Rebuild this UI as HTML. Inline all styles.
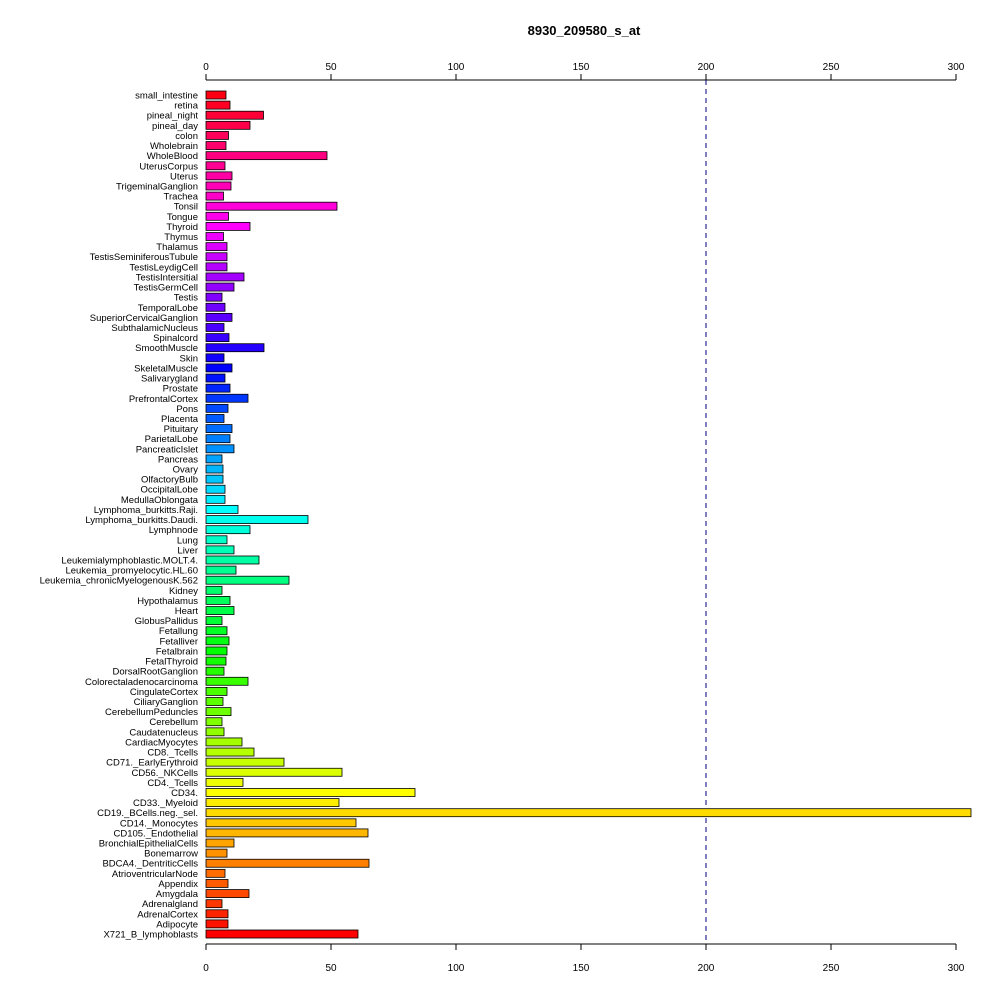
<!DOCTYPE html>
<html><head><meta charset="utf-8"><style>
body{margin:0;background:#fff;}
svg text{font-family:"Liberation Sans",Arial,sans-serif;}
</style></head><body>
<svg id="chart" width="1000" height="1000" xmlns="http://www.w3.org/2000/svg">
<rect width="1000" height="1000" fill="#fff"/>
<text x="584" y="35" text-anchor="middle" font-size="13" font-weight="bold">8930_209580_s_at</text>
<g id="axes"></g><g id="bars"></g>
</svg>
<script>
const categories=["small_intestine","retina","pineal_night","pineal_day","colon","Wholebrain","WholeBlood","UterusCorpus","Uterus","TrigeminalGanglion","Trachea","Tonsil","Tongue","Thyroid","Thymus","Thalamus","TestisSeminiferousTubule","TestisLeydigCell","TestisIntersitial","TestisGermCell","Testis","TemporalLobe","SuperiorCervicalGanglion","SubthalamicNucleus","Spinalcord","SmoothMuscle","Skin","SkeletalMuscle","Salivarygland","Prostate","PrefrontalCortex","Pons","Placenta","Pituitary","ParietalLobe","PancreaticIslet","Pancreas","Ovary","OlfactoryBulb","OccipitalLobe","MedullaOblongata","Lymphoma_burkitts.Raji.","Lymphoma_burkitts.Daudi.","Lymphnode","Lung","Liver","Leukemialymphoblastic.MOLT.4.","Leukemia_promyelocytic.HL.60","Leukemia_chronicMyelogenousK.562","Kidney","Hypothalamus","Heart","GlobusPallidus","Fetallung","Fetalliver","Fetalbrain","FetalThyroid","DorsalRootGanglion","Colorectaladenocarcinoma","CingulateCortex","CiliaryGanglion","CerebellumPeduncles","Cerebellum","Caudatenucleus","CardiacMyocytes","CD8._Tcells","CD71._EarlyErythroid","CD56._NKCells","CD4._Tcells","CD34.","CD33._Myeloid","CD19._BCells.neg._sel.","CD14._Monocytes","CD105._Endothelial","BronchialEpithelialCells","Bonemarrow","BDCA4._DentriticCells","AtrioventricularNode","Appendix","Amygdala","Adrenalgland","AdrenalCortex","Adipocyte","X721_B_lymphoblasts"];
const values=[8,9.6,23,17.6,9,8,48.4,7.6,10.4,10,7,52.4,9,17.6,7,8.4,8.4,8.4,15.2,11.2,6.4,7.6,10.4,7.2,9.2,23.2,7.2,10.4,7.6,9.6,16.8,8.8,7.2,10.4,9.6,11.2,6.4,6.8,6.8,7.6,7.6,12.8,40.8,17.6,8.4,11.2,21.2,12,33.2,6.4,9.6,11.2,6.4,8.4,9.2,8.4,8,7.2,16.8,8.4,6.8,10,6.4,7.2,14.4,19.2,31.2,54.4,14.8,83.6,53.2,306,60,64.8,11.2,8.4,65.2,7.6,8.8,17.2,6.4,8.8,8.8,60.8];
const ticks=[0,50,100,150,200,250,300];
const refLine=200;
const NS="http://www.w3.org/2000/svg";
const x=v=>206+v*2.5;
const y0=95,y1=934;
const yc=i=>y0+i*(y1-y0)/(categories.length-1);
function mk(t,a,p){const e=document.createElementNS(NS,t);for(const k in a)e.setAttribute(k,a[k]);p.appendChild(e);return e;}
const axes=document.getElementById('axes'),bars=document.getElementById('bars');
[80,944].forEach((ay,j)=>{
  const l=mk('line',{x1:x(0),x2:x(300),y1:ay,y2:ay,stroke:'#000'},axes);
  
  
  ticks.forEach(t=>{
    const tk=mk('line',{x1:x(t),x2:x(t),y1:ay,y2:j?ay+6:ay-6,stroke:'#000'},axes);
    
    
    const tx=mk('text',{x:x(t),y:j?ay+27:ay-10,'text-anchor':'middle','font-size':'10'},axes);
    tx.textContent=t;
    
    
  });
});
const dl=mk('line',{x1:x(refLine),x2:x(refLine),y1:80,y2:944,stroke:'#000080','stroke-dasharray':'5,4'},axes);


const n=categories.length;
categories.forEach((c,i)=>{
  const hue=(n-1-i)/n*360;
  const r=mk('rect',{x:x(0),y:yc(i)-4,width:x(values[i])-x(0),height:8,fill:`hsl(${hue},100%,50%)`,stroke:'#000','stroke-width':'0.8'},bars);
  
  
  const t=mk('text',{x:198,y:yc(i)+3.5,'text-anchor':'end','font-size':'9.5'},bars);
  t.textContent=c;
  
  
});
</script>
</body></html>
